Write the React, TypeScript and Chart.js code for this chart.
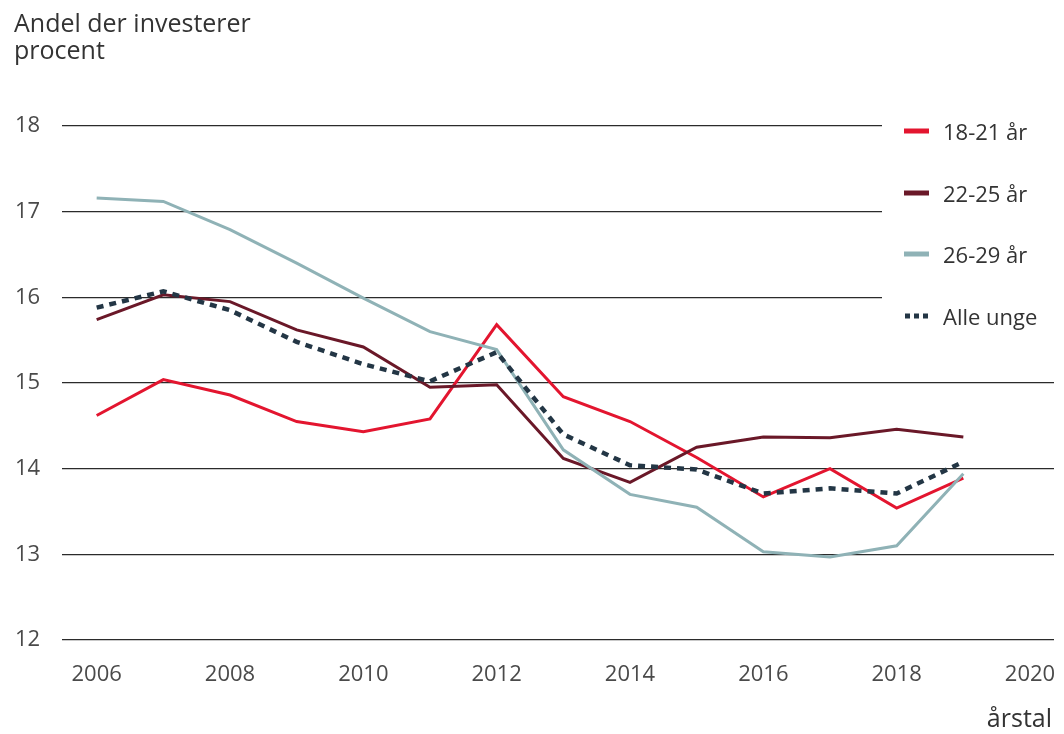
import React, { useEffect, useRef } from 'react';
import { Chart, registerables } from 'chart.js';

Chart.register(...registerables);

const years = [2006, 2007, 2008, 2009, 2010, 2011, 2012, 2013, 2014, 2015, 2016, 2017, 2018, 2019];
const xTickValues = [2006, 2008, 2010, 2012, 2014, 2016, 2018, 2020];
const yTickValues = [12, 13, 14, 15, 16, 17, 18];

const age1821 = [14.62, 15.04, 14.86, 14.55, 14.43, 14.58, 15.68, 14.84, 14.55, 14.13, 13.67, 14.0, 13.54, 13.89];
const age2225 = [15.74, 16.03, 15.95, 15.62, 15.42, 14.95, 14.98, 14.12, 13.84, 14.25, 14.37, 14.36, 14.46, 14.37];
const age2629 = [17.16, 17.12, 16.79, 16.4, 15.99, 15.6, 15.39, 14.22, 13.7, 13.55, 13.03, 12.97, 13.1, 13.94];
const alleUnge = [15.88, 16.07, 15.85, 15.48, 15.22, 15.02, 15.36, 14.4, 14.04, 13.99, 13.71, 13.77, 13.71, 14.08];

const seriesLabels = ['18-21 år', '22-25 år', '26-29 år', 'Alle unge'];
const seriesColors = ['#e3152f', '#6a1828', '#8fb2b6', '#233645'];

const titleLines = ['Andel der investerer', 'procent'];
const xAxisTitle = 'årstal';

const FONT = '"Open Sans", Lato, sans-serif';
const TEXT = '#333333';

const toPoints = (vals: number[]) => vals.map((v, i) => ({ x: years[i], y: v }));

const overlayPlugin = {
  id: 'overlay',
  afterDraw(chart: any) {
    const ctx = chart.ctx as CanvasRenderingContext2D;
    ctx.save();
    // legend backdrop
    ctx.fillStyle = '#ffffff';
    ctx.fillRect(882, 105, 182, 240);
    // titles
    ctx.fillStyle = TEXT;
    ctx.font = `25px ${FONT}`;
    ctx.textAlign = 'left';
    ctx.textBaseline = 'alphabetic';
    ctx.fillText(titleLines[0], 14, 32);
    ctx.fillText(titleLines[1], 14, 59);
    ctx.font = `25px ${FONT}`;
    ctx.textAlign = 'right';
    ctx.fillText(xAxisTitle, 1052, 727);
    // legend
    const ys = [131, 193, 254, 316];
    ctx.textAlign = 'left';
    ctx.font = `22px ${FONT}`;
    seriesLabels.forEach((lab, i) => {
      const y = ys[i];
      ctx.strokeStyle = seriesColors[i];
      ctx.lineWidth = 5;
      ctx.beginPath();
      if (i === 3) {
        ctx.setLineDash([5, 4]);
        ctx.moveTo(905, y);
        ctx.lineTo(932, y);
      } else {
        ctx.setLineDash([]);
        ctx.moveTo(904, y);
        ctx.lineTo(929, y);
      }
      ctx.stroke();
      ctx.setLineDash([]);
      ctx.fillStyle = TEXT;
      ctx.fillText(lab, 943, y + 9);
    });
    ctx.restore();
  },
};

export default function App() {
  const canvasRef = useRef<HTMLCanvasElement | null>(null);

  useEffect(() => {
    if (!canvasRef.current) return;
    const datasets = [age1821, age2225, age2629, alleUnge].map((vals, i) => ({
      label: seriesLabels[i],
      data: toPoints(vals),
      borderColor: seriesColors[i],
      backgroundColor: seriesColors[i],
      borderWidth: i === 3 ? 4.5 : 3,
      borderDash: i === 3 ? [7, 6] : [],
      pointRadius: 0,
      tension: 0,
      fill: false,
    }));
    const chart = new Chart(canvasRef.current, {
      type: 'line',
      data: { datasets: datasets.reverse() as any },
      options: {
        animation: false,
        responsive: false,
        maintainAspectRatio: false,
        layout: { padding: { left: 15, right: 10, top: 126, bottom: 0 } },
        plugins: {
          legend: { display: false },
          tooltip: { enabled: false },
          title: { display: false },
        },
        scales: {
          x: {
            type: 'linear',
            min: 2005.48,
            max: 2020.36,
            afterBuildTicks: (scale: any) => {
              scale.ticks = xTickValues.map((v) => ({ value: v }));
            },
            afterFit: (scale: any) => {
              scale.height = 94;
              scale.paddingLeft = 0;
              scale.paddingRight = 0;
            },
            grid: { display: false, drawTicks: false },
            border: { display: false },
            ticks: {
              padding: 22,
              color: '#4a4a4a',
              font: { family: FONT, size: 22 },
              callback: (v: any) => String(v),
              maxRotation: 0,
              autoSkip: false,
            },
          },
          y: {
            min: 12,
            max: 18,
            afterBuildTicks: (scale: any) => {
              scale.ticks = yTickValues.map((v) => ({ value: v }));
            },
            afterFit: (scale: any) => {
              scale.width = 47;
              scale.paddingTop = 0;
              scale.paddingBottom = 0;
            },
            grid: { color: '#2b2b2b', lineWidth: 1.3, drawTicks: false },
            border: { display: false },
            ticks: {
              crossAlign: 'far',
              padding: 0,
              color: '#4a4a4a',
              font: { family: FONT, size: 22 },
              callback: (v: any) => String(v),
            },
          },
        },
      },
      plugins: [overlayPlugin],
    });
    return () => chart.destroy();
  }, []);

  return (
    <div style={{ position: 'fixed', left: 0, top: 0, width: 1064, height: 734, background: '#fff' }}>
      <canvas ref={canvasRef} width={1064} height={734} style={{ width: 1064, height: 734 }} />
    </div>
  );
}
